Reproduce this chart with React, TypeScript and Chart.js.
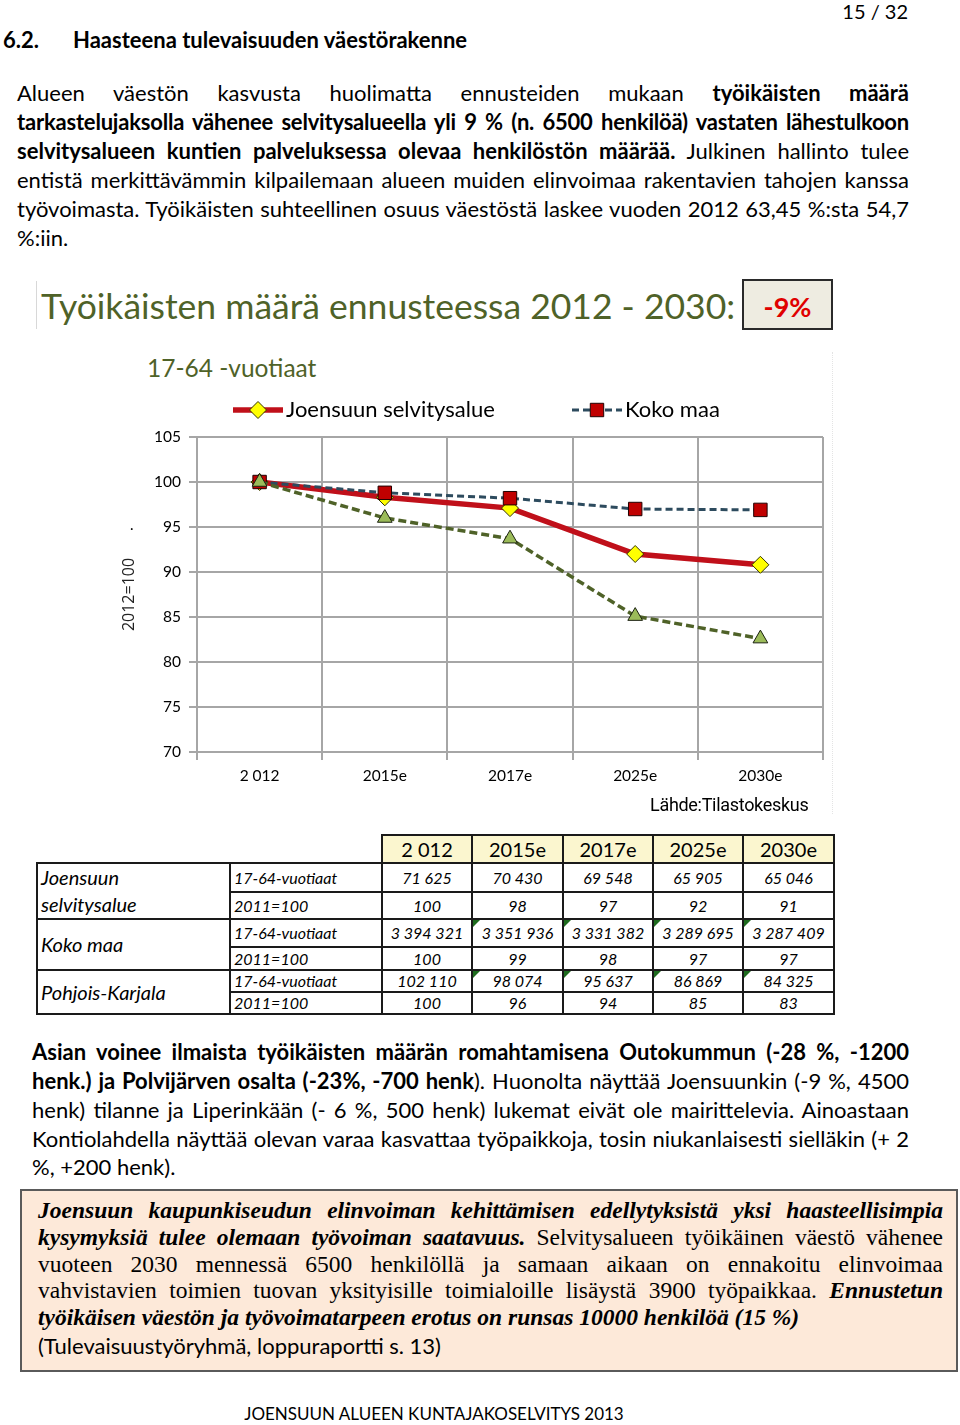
import React, { useEffect, useRef } from 'react';
import { Chart, registerables } from 'chart.js';

Chart.register(...registerables);

// ---------- data ----------
const categories = ['2 012', '2015e', '2017e', '2025e', '2030e'];
const seriesNames = ['Joensuun selvitysalue', 'Koko maa', 'Pohjois-Karjala'];
const joensuuIndex = [100, 98.3, 97.1, 92.0, 90.8];
const kokoMaaIndex = [100, 98.8, 98.2, 97.0, 96.9];
const pohjoisKarjalaIndex = [100, 96.0, 93.7, 85.1, 82.6];
const yTicks = [70, 75, 80, 85, 90, 95, 100, 105];

const joensuuCount = ['71 625', '70 430', '69 548', '65 905', '65 046'];
const joensuuRel = ['100', '98', '97', '92', '91'];
const kokoCount = ['3 394 321', '3 351 936', '3 331 382', '3 289 695', '3 287 409'];
const kokoRel = ['100', '99', '98', '97', '97'];
const pkCount = ['102 110', '98 074', '95 637', '86 869', '84 325'];
const pkRel = ['100', '96', '94', '85', '83'];

const SANS = 'Lato, "Open Sans", sans-serif';
const SERIF = '"Liberation Serif", "DejaVu Serif", serif';
const OLIVE = '#4F6228';
const GRID = '#A6A6A6';

function drawMarker(ctx: CanvasRenderingContext2D, style: string, x: number, y: number, r: number, fill: string, stroke: string) {
  ctx.save();
  ctx.setLineDash([]);
  ctx.fillStyle = fill;
  ctx.strokeStyle = stroke;
  ctx.lineWidth = 1;
  ctx.beginPath();
  if (style === 'rectRot') {
    ctx.moveTo(x, y - r);
    ctx.lineTo(x + r, y);
    ctx.lineTo(x, y + r);
    ctx.lineTo(x - r, y);
    ctx.closePath();
  } else if (style === 'rect') {
    const s = r * Math.SQRT1_2;
    ctx.rect(x - s, y - s, 2 * s, 2 * s);
  } else {
    ctx.arc(x, y, r, 0, Math.PI * 2);
  }
  ctx.fill();
  ctx.stroke();
  ctx.restore();
}

const customLegend = {
  id: 'customLegend',
  afterDraw(chart: any) {
    const { ctx, chartArea } = chart;
    const y = chartArea.top - 27;
    const items = [
      { ds: 0, x: chartArea.left + 36 },
      { ds: 1, x: chartArea.left + 375 },
    ];
    items.forEach((it) => {
      const ds = chart.data.datasets[it.ds];
      ctx.save();
      ctx.strokeStyle = ds.borderColor;
      ctx.lineWidth = ds.borderWidth;
      ctx.setLineDash(ds.borderDash || []);
      ctx.beginPath();
      ctx.moveTo(it.x, y);
      ctx.lineTo(it.x + 50, y);
      ctx.stroke();
      ctx.restore();
      drawMarker(ctx, ds.pointStyle, it.x + 25, y, ds.pointRadius, ds.pointBackgroundColor, ds.pointBorderColor);
      ctx.save();
      ctx.fillStyle = '#000';
      ctx.font = `22px ${SANS}`;
      ctx.textBaseline = 'middle';
      ctx.textAlign = 'left';
      ctx.fillText(ds.label, it.x + 53, y);
      ctx.restore();
    });
  },
};

function LineChart() {
  const ref = useRef<HTMLCanvasElement | null>(null);
  useEffect(() => {
    if (!ref.current) return;
    const chart = new Chart(ref.current, {
      type: 'line',
      data: {
        labels: categories,
        datasets: [
          {
            label: seriesNames[0],
            data: joensuuIndex,
            borderColor: '#C0101A',
            borderWidth: 5.5,
            pointStyle: 'rectRot',
            pointRadius: 8.5,
            pointBackgroundColor: '#FFFF00',
            pointBorderColor: '#333300',
            pointBorderWidth: 1,
            tension: 0,
            order: 3,
          },
          {
            label: seriesNames[1],
            data: kokoMaaIndex,
            borderColor: '#2D4B5E',
            borderWidth: 3,
            borderDash: [7, 4],
            pointStyle: 'rect',
            pointRadius: 9.5,
            pointBackgroundColor: '#C00000',
            pointBorderColor: '#200000',
            pointBorderWidth: 1,
            tension: 0,
            order: 2,
          },
          {
            label: seriesNames[2],
            data: pohjoisKarjalaIndex,
            borderColor: OLIVE,
            borderWidth: 3.5,
            borderDash: [8, 4],
            pointStyle: 'triangle',
            pointRadius: 8.5,
            pointBackgroundColor: '#9BBB59',
            pointBorderColor: '#1A2010',
            pointBorderWidth: 1,
            tension: 0,
            order: 1,
          },
        ],
      },
      options: {
        animation: false,
        responsive: false,
        devicePixelRatio: 1,
        layout: { padding: { top: 47, right: 17, left: 0, bottom: 0 } },
        plugins: {
          legend: { display: false },
          tooltip: { enabled: false },
          title: { display: false },
        },
        scales: {
          x: {
            type: 'category',
            offset: true,
            grid: { offset: true, color: GRID, lineWidth: 2, tickLength: 8, drawTicks: true },
            border: { color: GRID, width: 2 },
            ticks: { color: '#000', font: { family: SANS, size: 15.5 }, padding: 7, maxRotation: 0 },
            afterFit: (scale: any) => { scale.height = 63; },
          },
          y: {
            min: 70,
            max: 105,
            afterBuildTicks: (scale: any) => { scale.ticks = yTicks.map((v) => ({ value: v })); },
            grid: { color: GRID, lineWidth: 2, tickLength: 8, drawTicks: true },
            border: { color: GRID, width: 2 },
            ticks: { color: '#000', font: { family: SANS, size: 15.5 }, padding: 8 },
            title: {
              display: true,
              text: '2012=100',
              color: '#222',
              font: { family: '"Open Sans", sans-serif', size: 16 },
              padding: { top: 20, bottom: 0 },
            },
            afterFit: (scale: any) => { scale.width = 97; },
          },
        },
      },
      plugins: [customLegend],
    } as any);
    return () => chart.destroy();
  }, []);
  return <canvas ref={ref} width={740} height={425} style={{ position: 'absolute', left: 100, top: 390, width: 740, height: 425 }} />;
}

type LineProps = {
  x: number; y: number; w: number; size?: number; lh?: number; justify?: boolean;
  family?: string; children?: React.ReactNode; style?: React.CSSProperties;
};
function TL({ x, y, w, size = 22, lh = 29, justify = true, family = SANS, children, style }: LineProps) {
  return (
    <div
      style={{
        position: 'absolute', left: x, top: y - lh / 2, width: w, height: lh, lineHeight: lh + 'px',
        fontSize: size, fontFamily: family, color: '#000',
        textAlign: justify ? 'justify' : 'left', textAlignLast: justify ? 'justify' : 'left',
        ...style,
      }}
    >
      {children}
    </div>
  );
}

const cellBorder = '2px solid #1a1a1a';

function Tri() {
  return (
    <span style={{ position: 'absolute', left: 0, top: 0, width: 0, height: 0, borderTop: '7px solid #1E6B1E', borderRight: '7px solid transparent' }} />
  );
}

function DataTable() {
  const colW = [193, 152, 90, 91, 90, 90, 91];
  const numCell = (v: string, tri: boolean, i: number) => (
    <td key={i} style={{ border: cellBorder, textAlign: 'center', fontStyle: 'italic', fontSize: 16, padding: 0, position: 'relative' }}>
      {tri && i > 0 ? <Tri /> : null}
      {v}
    </td>
  );
  const subCell = (t: string) => (
    <td style={{ border: cellBorder, fontStyle: 'italic', fontSize: 16, padding: '0 0 0 3px', textAlign: 'left' }}>{t}</td>
  );
  const groupCell = (content: React.ReactNode) => (
    <td rowSpan={2} style={{ border: cellBorder, fontStyle: 'italic', fontSize: 20, padding: '0 0 0 3px', textAlign: 'left', verticalAlign: 'middle', lineHeight: '27px' }}>{content}</td>
  );
  return (
    <table
      style={{
        position: 'absolute', left: 36, top: 834, borderCollapse: 'collapse', tableLayout: 'fixed',
        width: 797, fontFamily: SANS, color: '#000', lineHeight: '18px',
      }}
    >
      <colgroup>
        {colW.map((w, i) => <col key={i} style={{ width: w }} />)}
      </colgroup>
      <tbody>
        <tr style={{ height: 28 }}>
          <td style={{ border: 'none' }} />
          <td style={{ border: 'none', borderRight: cellBorder }} />
          {categories.map((c, i) => (
            <td key={i} style={{ border: cellBorder, background: '#FBF6CF', textAlign: 'center', fontSize: 20, padding: 0 }}>{c}</td>
          ))}
        </tr>
        <tr style={{ height: 28 }}>
          {groupCell(<>Joensuun<br />selvitysalue</>)}
          {subCell('17-64-vuotiaat')}
          {joensuuCount.map((v, i) => numCell(v, false, i))}
        </tr>
        <tr style={{ height: 26 }}>
          {subCell('2011=100')}
          {joensuuRel.map((v, i) => numCell(v, false, i))}
        </tr>
        <tr style={{ height: 28 }}>
          {groupCell('Koko maa')}
          {subCell('17-64-vuotiaat')}
          {kokoCount.map((v, i) => numCell(v, true, i))}
        </tr>
        <tr style={{ height: 23 }}>
          {subCell('2011=100')}
          {kokoRel.map((v, i) => numCell(v, false, i))}
        </tr>
        <tr style={{ height: 22 }}>
          {groupCell('Pohjois-Karjala')}
          {subCell('17-64-vuotiaat')}
          {pkCount.map((v, i) => numCell(v, true, i))}
        </tr>
        <tr style={{ height: 22 }}>
          {subCell('2011=100')}
          {pkRel.map((v, i) => numCell(v, false, i))}
        </tr>
      </tbody>
    </table>
  );
}

export default function App() {
  const P1X = 17, P1W = 892;
  const P2X = 32, P2W = 877;
  const BX = 38, BW = 905;
  const BS = 23.5;
  return (
    <div style={{ position: 'absolute', left: 0, top: 0, width: 960, height: 1425, background: '#fff', overflow: 'hidden', fontFamily: SANS }}>
      {/* header */}
      <TL x={780} y={11} w={128} size={20} justify={false} style={{ textAlign: 'right', textAlignLast: 'right' }}>15 / 32</TL>
      <TL x={3} y={39} w={60} justify={false} style={{ fontWeight: 700 }}>6.2.</TL>
      <TL x={73} y={39} w={500} justify={false} style={{ fontWeight: 700 }}>Haasteena tulevaisuuden väestörakenne</TL>

      {/* paragraph 1 */}
      <TL x={P1X} y={92} w={P1W}>Alueen väestön kasvusta huolimatta ennusteiden mukaan <b>työikäisten määrä</b></TL>
      <TL x={P1X} y={121} w={P1W} style={{ letterSpacing: '-0.2px' }}><b>tarkastelujaksolla vähenee selvitysalueella yli 9 % (n. 6500 henkilöä) vastaten lähestulkoon</b></TL>
      <TL x={P1X} y={150} w={P1W}><b>selvitysalueen kuntien palveluksessa olevaa henkilöstön määrää.</b> Julkinen hallinto tulee</TL>
      <TL x={P1X} y={179} w={P1W}>entistä merkittävämmin kilpailemaan alueen muiden elinvoimaa rakentavien tahojen kanssa</TL>
      <TL x={P1X} y={208} w={P1W}>työvoimasta. Työikäisten suhteellinen osuus väestöstä laskee vuoden 2012 63,45 %:sta 54,7</TL>
      <TL x={P1X} y={237} w={P1W} justify={false}>%:iin.</TL>

      {/* chart heading */}
      <div style={{ position: 'absolute', left: 36, top: 281, width: 1, height: 48, background: '#D8D8D8' }} />
      <TL x={41} y={306} w={700} size={35.5} lh={44} justify={false} style={{ color: OLIVE }}>Työikäisten määrä ennusteessa 2012 - 2030:</TL>
      <div style={{ position: 'absolute', left: 742, top: 279, width: 87, height: 47, border: '2px solid #2a2a2a', background: '#EEECE1', textAlign: 'center', lineHeight: '52px', fontSize: 27, fontWeight: 700, color: '#E00000', fontFamily: SANS }}>-9%</div>
      <TL x={147} y={368} w={300} size={24.5} lh={32} justify={false} style={{ color: OLIVE }}>17-64 -vuotiaat</TL>
      <div style={{ position: 'absolute', left: 832, top: 352, width: 1, height: 462, borderLeft: '1px dotted #E4E4E4' }} />

      <LineChart />
      <TL x={130} y={524} w={10} size={15} lh={18} justify={false}>.</TL>
      <TL x={650} y={805} w={200} size={18} lh={20} justify={false} family={'Roboto, sans-serif'} style={{ letterSpacing: '-0.3px' }}>Lähde:Tilastokeskus</TL>

      <DataTable />

      {/* paragraph 2 */}
      <TL x={P2X} y={1051} w={P2W}><b>Asian voinee ilmaista työikäisten määrän romahtamisena Outokummun (-28 %, -1200</b></TL>
      <TL x={P2X} y={1080} w={P2W}><b>henk.) ja Polvijärven osalta (-23%, -700 henk</b>). Huonolta näyttää Joensuunkin (-9 %, 4500</TL>
      <TL x={P2X} y={1109} w={P2W}>henk) tilanne ja Liperinkään (- 6 %, 500 henk) lukemat eivät ole mairittelevia. Ainoastaan</TL>
      <TL x={P2X} y={1138} w={P2W}>Kontiolahdella näyttää olevan varaa kasvattaa työpaikkoja, tosin niukanlaisesti sielläkin (+ 2</TL>
      <TL x={P2X} y={1166} w={P2W} justify={false}>%, +200 henk).</TL>

      {/* quote box */}
      <div style={{ position: 'absolute', left: 20, top: 1189, width: 934, height: 179, border: '2px solid #5a5a5a', background: '#FDE9D9' }} />
      <TL x={BX} y={1210} w={BW} size={BS} lh={27} family={SERIF}><i><b>Joensuun kaupunkiseudun elinvoiman kehittämisen edellytyksistä yksi haasteellisimpia</b></i></TL>
      <TL x={BX} y={1237} w={BW} size={BS} lh={27} family={SERIF}><i><b>kysymyksiä tulee olemaan työvoiman saatavuus.</b></i> Selvitysalueen työikäinen väestö vähenee</TL>
      <TL x={BX} y={1264} w={BW} size={BS} lh={27} family={SERIF}>vuoteen 2030 mennessä 6500 henkilöllä ja samaan aikaan on ennakoitu elinvoimaa</TL>
      <TL x={BX} y={1290} w={BW} size={BS} lh={27} family={SERIF}>vahvistavien toimien tuovan yksityisille toimialoille lisäystä 3900 työpaikkaa. <i><b>Ennustetun</b></i></TL>
      <TL x={BX} y={1317} w={BW} size={BS} lh={27} family={SERIF} justify={false}><i><b>työikäisen väestön ja työvoimatarpeen erotus on runsas 10000 henkilöä (15 %)</b></i></TL>
      <TL x={BX} y={1345} w={BW} size={22} lh={27} justify={false}>(Tulevaisuustyöryhmä, loppuraportti s. 13)</TL>

      {/* footer */}
      <TL x={180} y={1414} w={508} size={17} lh={22} justify={false} style={{ textAlign: 'center', textAlignLast: 'center' }}>JOENSUUN ALUEEN KUNTAJAKOSELVITYS 2013</TL>
    </div>
  );
}
